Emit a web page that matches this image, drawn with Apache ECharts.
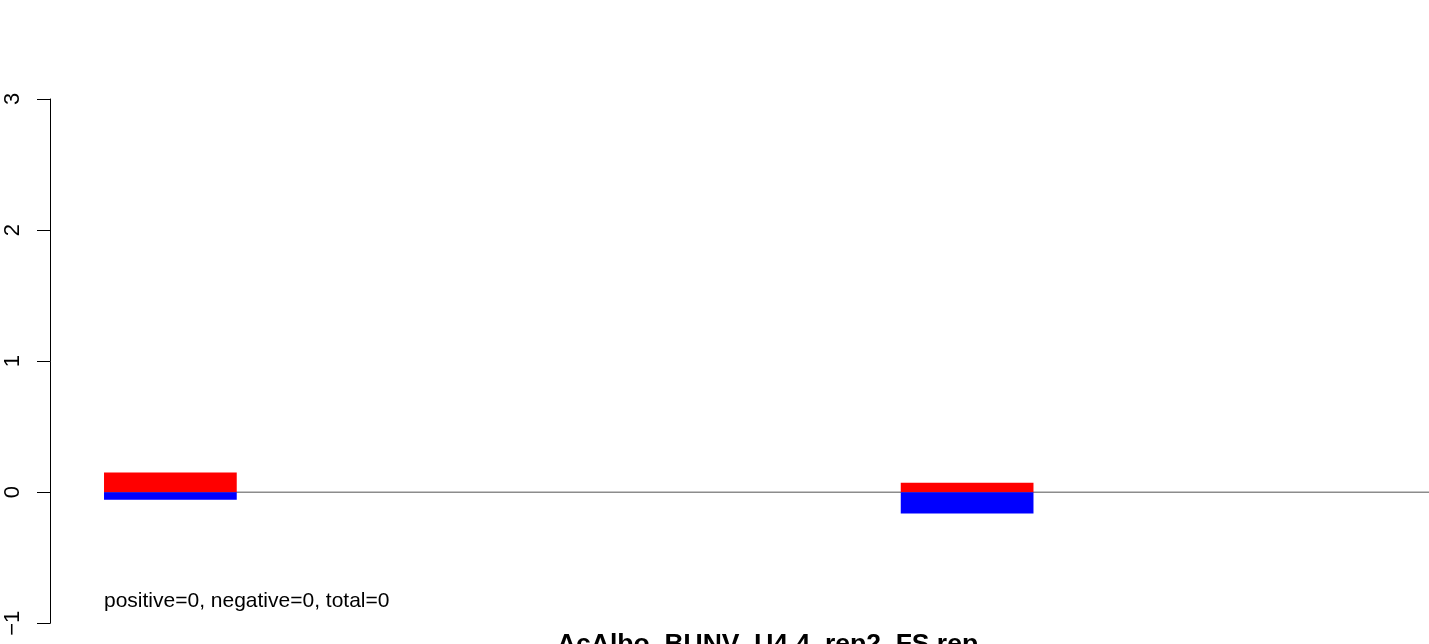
<!DOCTYPE html>
<html>
<head>
<meta charset="utf-8">
<script src="https://cdn.jsdelivr.net/npm/echarts@6/dist/echarts.min.js"></script>
<style>
html,body{margin:0;padding:0;background:#fff;}
#main{width:1429px;height:644px;}
</style>
</head>
<body>
<div id="main"></div>
<script>
// Data (bar positions in bar-width units along x, values on y)
const barStarts = [0.407, 6.41];
const barWidth = 1;
const positiveValues = [0.15, 0.072];
const negativeValues = [-0.057, -0.162];
const yTicks = [-1, 0, 1, 2, 3];
const xRange = [0, 10.39];
const annotation = 'positive=0, negative=0, total=0';
const titleText = 'AcAlbo_BUNV_U4.4_rep2_FS.rep';

const redData = barStarts.map((s, i) => [s, s + barWidth, 0, positiveValues[i]]);
const blueData = barStarts.map((s, i) => [s, s + barWidth, negativeValues[i], 0]);

function rectRender(color) {
  return function (params, api) {
    const p0 = api.coord([api.value(0), api.value(3)]);
    const p1 = api.coord([api.value(1), api.value(2)]);
    return {
      type: 'rect',
      shape: { x: p0[0], y: p0[1], width: p1[0] - p0[0], height: p1[1] - p0[1] },
      style: { fill: color }
    };
  };
}

const chart = echarts.init(document.getElementById('main'), null, { renderer: 'canvas' });
chart.setOption({
  animation: false,
  backgroundColor: '#ffffff',
  textStyle: { fontFamily: 'Liberation Sans' },
  grid: { left: 50, right: 0, top: 99, bottom: 20.7, containLabel: false },
  xAxis: {
    type: 'value', min: xRange[0], max: xRange[1], show: false
  },
  yAxis: {
    type: 'value', min: yTicks[0], max: yTicks[yTicks.length - 1], interval: 1,
    axisLine: { show: true, lineStyle: { color: '#000', width: 1 } },
    axisTick: { show: true, length: 13, lineStyle: { color: '#000', width: 1 } },
    splitLine: { show: false },
    axisLabel: {
      rotate: 90, margin: 26, color: '#000', fontSize: 22, fontFamily: 'Liberation Sans',
      formatter: v => String(v).replace('-', '\u2212')
    }
  },
  series: [
    {
      type: 'line', data: [[barStarts[0], 0], [xRange[1], 0]], symbol: 'none', z: 1,
      lineStyle: { color: '#8c8c8c', width: 1.5 }
    },
    { type: 'custom', renderItem: rectRender('#ff0000'), data: redData, z: 2 },
    { type: 'custom', renderItem: rectRender('#0000ff'), data: blueData, z: 2 }
  ],
  graphic: [
    {
      type: 'text', x: 104, y: 590.5,
      style: { text: annotation, fontSize: 21, fontFamily: 'Liberation Sans', fill: '#000' }
    },
    {
      type: 'text', x: 767.5, y: 631.5,
      style: { text: titleText, fontSize: 26.5, fontWeight: 'bold', fontFamily: 'Liberation Sans', fill: '#000', align: 'center' }
    }
  ]
});
</script>
</body>
</html>
